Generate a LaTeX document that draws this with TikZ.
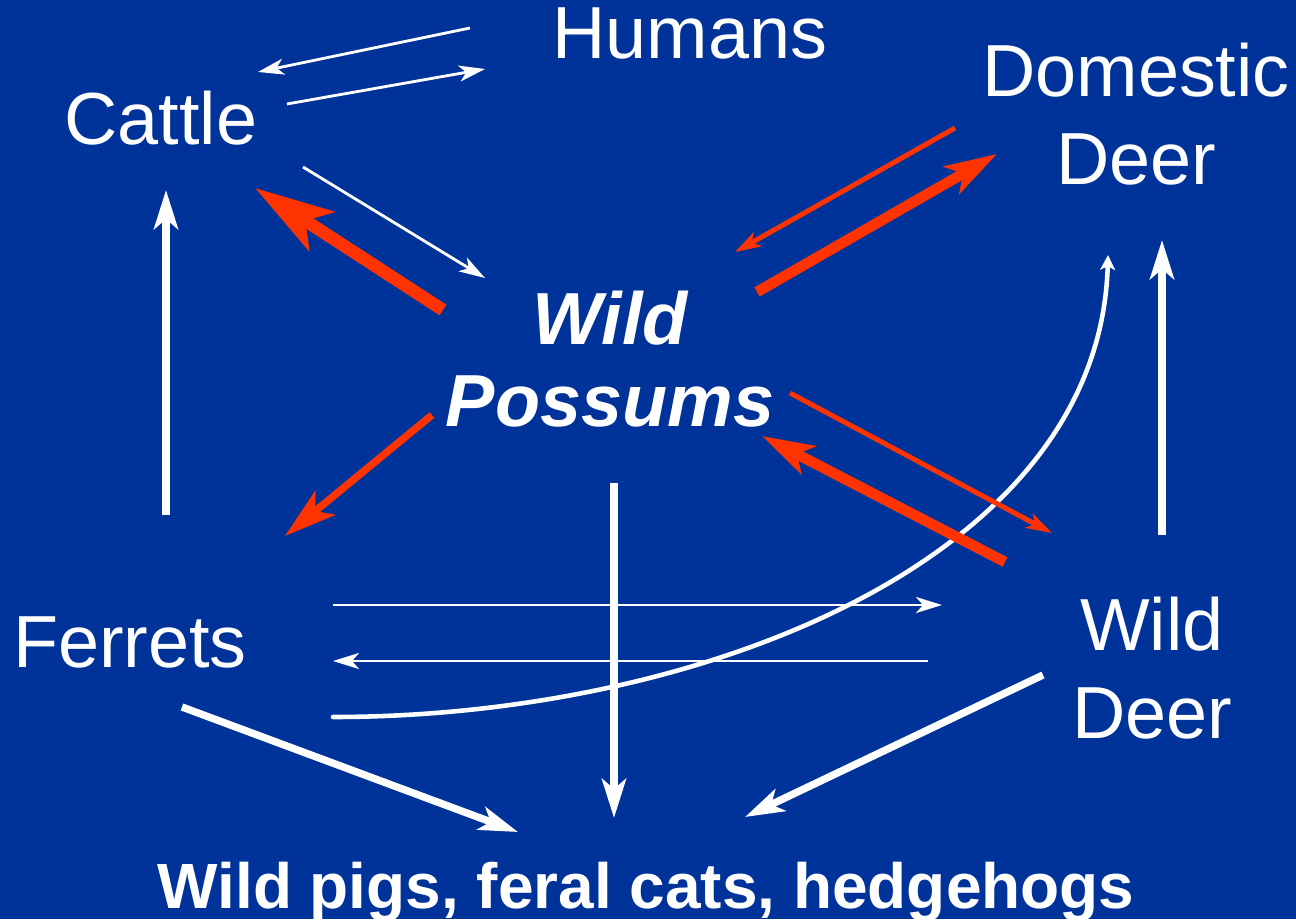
\documentclass[tikz,border=0pt]{standalone}
\usepackage{fontspec}
\setmainfont{Liberation Sans}
\usepackage{tikz}
\usetikzlibrary{arrows.meta}
\usepackage{xcolor}
\definecolor{slideblue}{RGB}{0,51,153}
\definecolor{flowred}{RGB}{255,51,0}

\begin{document}
\begin{tikzpicture}[line cap=butt,
  lbl/.style={text=white,inner sep=0pt,font=\fontsize{21}{25}\selectfont},
  thinw/.style={white,line width=0.8pt,-{Stealth[length=2.6mm,width=1.6mm,inset=0.7mm]}},
  thickw/.style={white,line width=2.1pt,-{Stealth[length=3.9mm,width=2.4mm,inset=1mm]}},
  thinr/.style={flowred,line width=1.4pt,-{Stealth[length=2.6mm,width=1.6mm,inset=0.7mm]}},
  thickr/.style={flowred,line width=3pt,-{Stealth[length=5.2mm,width=3.1mm,inset=1.3mm]}}]
\fill[slideblue] (0,0) rectangle (12.96,9.19);
% animal groups
\node[lbl,anchor=base] (humans) at (6.90,8.60) {Humans};
\node[lbl,anchor=base] (cattle) at (1.61,7.74) {Cattle};
\node[lbl,align=center] (domdeer) at (11.36,8.05) {Domestic\\Deer};
\node[lbl,align=center,font=\fontsize{21}{23.5}\selectfont\bfseries\itshape] (possums) at (6.10,5.60) {Wild\\Possums};
\node[lbl,align=center] (wilddeer) at (11.52,2.51) {Wild\\Deer};
\node[lbl,anchor=base] (ferrets) at (1.30,2.52) {Ferrets};
\node[lbl,anchor=base,font=\fontsize{18.2}{22}\selectfont\bfseries] (others) at (6.46,0.11) {Wild pigs, feral cats, hedgehogs};
% arrow ends
\coordinate (hc1) at (4.70,8.91); \coordinate (hc2) at (2.58,8.47);
\coordinate (ch1) at (2.87,8.15); \coordinate (ch2) at (4.85,8.50);
\coordinate (cp1) at (3.03,7.52); \coordinate (cp2) at (4.85,6.41);
\coordinate (pc1) at (4.43,6.09); \coordinate (pc2) at (2.55,7.31);
\coordinate (dp1) at (9.55,7.91); \coordinate (dp2) at (7.35,6.67);
\coordinate (pd1) at (7.57,6.27); \coordinate (pd2) at (9.97,7.65);
\coordinate (pf1) at (4.32,5.04); \coordinate (pf2) at (2.85,3.83);
\coordinate (pw1) at (7.90,5.26); \coordinate (pw2) at (10.52,3.86);
\coordinate (wp1) at (10.05,3.57); \coordinate (wp2) at (7.62,4.83);
\coordinate (fc1) at (1.66,4.04); \coordinate (fc2) at (1.66,7.29);
\coordinate (wd1) at (11.62,3.84); \coordinate (wd2) at (11.62,6.79);
\coordinate (fw1) at (3.33,3.14); \coordinate (fw2) at (9.42,3.14);
\coordinate (wf1) at (9.28,2.58); \coordinate (wf2) at (3.33,2.58);
\coordinate (fd1) at (3.33,2.02); \coordinate (fd2) at (11.08,6.64);
\coordinate (po1) at (6.14,4.36); \coordinate (po2) at (6.14,1.01);
\coordinate (fo1) at (1.82,2.12); \coordinate (fo2) at (5.18,0.87);
\coordinate (wo1) at (10.43,2.44); \coordinate (wo2) at (7.45,1.02);
% white links
\draw[thinw] (hc1) -- (hc2);
\draw[thinw] (ch1) -- (ch2);
\draw[thinw] (cp1) -- (cp2);
\draw[thinw] (fw1) -- (fw2);
\draw[thinw] (wf1) -- (wf2);
\draw[thickw] (fc1) -- (fc2);
\draw[thickw] (wd1) -- (wd2);
\draw[thickw] (po1) -- (po2);
\draw[thickw] (fo1) -- (fo2);
\draw[thickw] (wo1) -- (wo2);
\draw[white,line width=1.3pt,line cap=round,-{Stealth[length=1.5mm,width=1.5mm,inset=0.4mm]}]
  (fd1) .. controls (7.00,2.02) and (11.00,3.59) .. (fd2);
% possum links
\draw[flowred,line width=3.6pt,-{Stealth[length=7.9mm,width=4.6mm,inset=1.9mm]}] (pc1) -- (pc2);
\draw[thinr] (dp1) -- (dp2);
\draw[thickr] (pd1) -- (pd2);
\draw[thickr,line width=2.1pt] (pf1) -- (pf2);
\draw[thinr] (pw1) -- (pw2);
\draw[thickr] (wp1) -- (wp2);
\end{tikzpicture}
\end{document}
